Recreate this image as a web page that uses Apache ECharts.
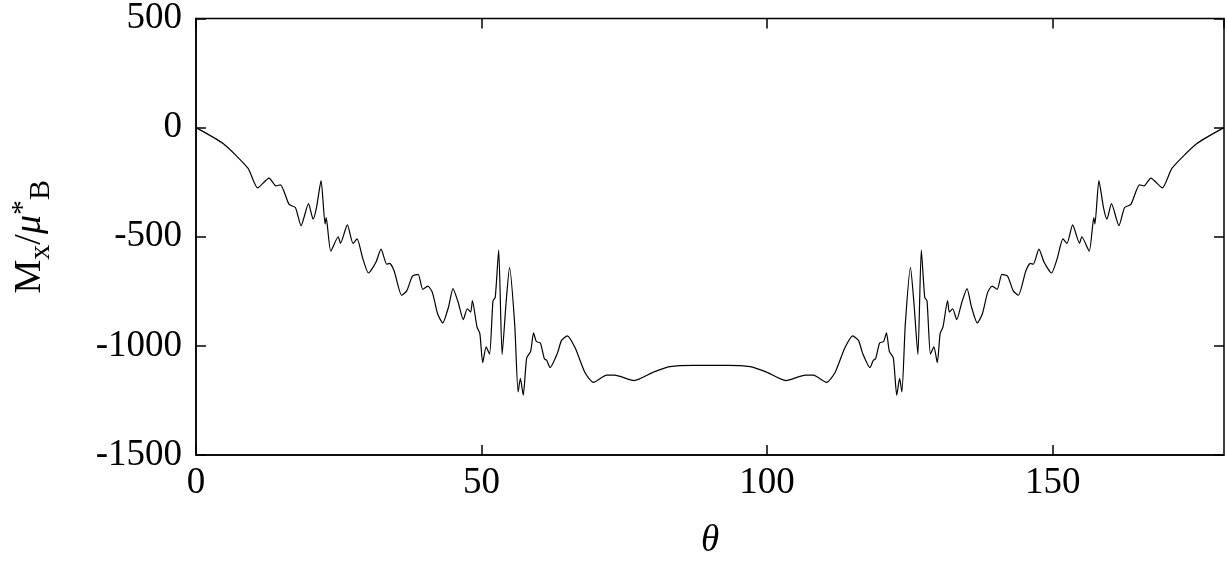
<!DOCTYPE html>
<html><head><meta charset="utf-8">
<script src="https://cdn.jsdelivr.net/npm/echarts@6/dist/echarts.min.js"></script>
<style>html,body{margin:0;background:#fff}#c{width:1227px;height:565px}</style>
</head><body><div id="c"></div>
<script>
// left half of the curve, theta 0..90 (curve is symmetric about 90)
var theta = [0,4.8,9.1,10.8,12.8,14,14.8,16.3,17.4,18.4,19.7,20.5,21.1,21.9,22.6,22.8,23.6,24.9,25.3,26.5,27.5,28.2,29.2,30.2,31.5,32.4,33.4,33.9,34.7,36.0,36.9,37.9,38.9,39.7,40.6,41.4,42.3,43.2,44.2,45.0,45.9,46.8,47.5,48.1,48.4,49.2,49.7,50.2,50.8,51.4,52.0,52.4,53.0,53.6,54.3,54.9,55.8,56.4,56.8,57.3,57.9,58.6,59.1,59.6,60.3,61.0,61.4,62.0,63.3,64.0,65.0,66.4,68.1,69.6,71.9,73.3,76.7,80.2,83.0,87.0,90];
var mx = [0,-74,-186,-276,-231,-267,-262,-352,-366,-449,-348,-419,-366,-243,-442,-412,-566,-500,-530,-446,-531,-510,-599,-666,-617,-557,-626,-622,-657,-768,-748,-680,-672,-741,-726,-756,-853,-895,-823,-738,-800,-880,-830,-845,-793,-913,-943,-1077,-1005,-1038,-793,-778,-561,-1040,-800,-640,-900,-1211,-1149,-1226,-1055,-1025,-940,-980,-987,-1059,-1066,-1099,-1032,-975,-954,-1010,-1122,-1167,-1134,-1134,-1159,-1119,-1095,-1089,-1089];
var xTicks = [0,50,100,150];
var yTicks = [500,0,-500,-1000,-1500];

var data = theta.map(function(t,i){return [t,mx[i]]});
for (var i = theta.length-2; i >= 0; i--) data.push([180-theta[i], mx[i]]);

var font = 'Liberation Serif';
var chart = echarts.init(document.getElementById('c'));
var tick = {show:true, inside:true, length:10, lineStyle:{color:'#000',width:1.5}};
var line = {onZero:false, lineStyle:{color:'#000',width:1.5}};
chart.setOption({
  animation:false,
  grid:{left:177,right:3,top:15,bottom:104,show:true,borderColor:'#000',borderWidth:1.5},
  xAxis:[
    {type:'value',min:0,max:180,interval:50,axisLine:line,axisTick:tick,splitLine:{show:false},
     axisLabel:{color:'#000',fontFamily:font,fontSize:37,margin:10,showMaxLabel:false,
       formatter:function(v){return xTicks.indexOf(v)>=0?String(v):''}},
     name:'θ',nameLocation:'middle',nameGap:68,nameTextStyle:{fontFamily:font,fontSize:37,fontStyle:'italic',color:'#000'}},
    {type:'value',position:'top',min:0,max:180,interval:50,axisLine:{show:false,onZero:false},axisTick:tick,axisLabel:{show:false},splitLine:{show:false}}
  ],
  yAxis:[
    {type:'value',min:-1500,max:500,interval:500,axisLine:line,axisTick:tick,splitLine:{show:false},
     axisLabel:{color:'#000',fontFamily:font,fontSize:37,margin:14,
       formatter:function(v){return yTicks.indexOf(v)>=0?String(v):''}},
     name:'{a|M}{s|x}{a|/}{m|μ}{u|*}{s|B}',nameLocation:'middle',nameGap:140,nameRotate:90,
     nameTextStyle:{color:'#000',rich:{a:{fontFamily:font,fontSize:38,color:'#000'},
       m:{fontFamily:font,fontSize:38,fontStyle:'italic',color:'#000'},
       s:{fontFamily:font,fontSize:30,color:'#000',padding:[22,0,0,0]},
       u:{fontFamily:font,fontSize:30,color:'#000',padding:[0,0,14,0]}}}},
    {type:'value',position:'right',min:-1500,max:500,interval:500,axisLine:{show:false,onZero:false},axisTick:tick,axisLabel:{show:false},splitLine:{show:false}}
  ],
  series:[{type:'line',data:data,showSymbol:false,smooth:0.2,lineStyle:{color:'#000',width:1.2}}]
});
</script></body></html>
